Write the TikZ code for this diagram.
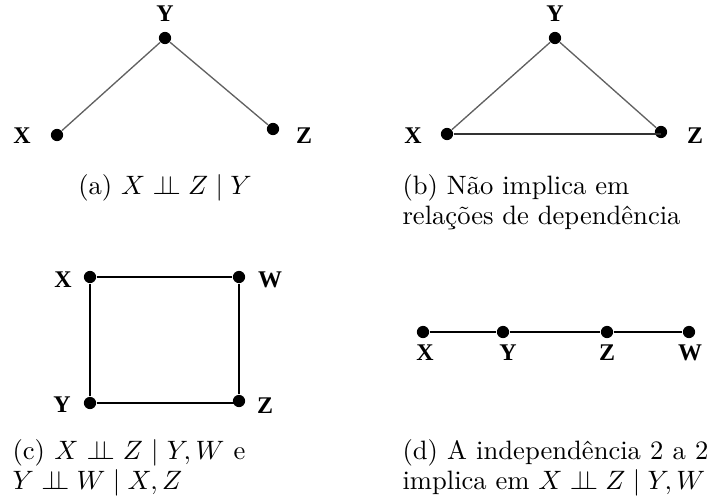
\documentclass[tikz,border=0pt]{standalone}
\usepackage{fontspec}
\newfontfamily\lblfont{Liberation Serif}
\newcommand{\indep}{\perp\!\!\!\perp}
\begin{document}
\begin{tikzpicture}[x=0.376pt,y=-0.376pt,
  dot/.style={circle,fill=black,inner sep=0pt,minimum size=4.6pt},
  lbl/.style={font=\lblfont\bfseries\fontsize{9}{10}\selectfont, inner sep=0pt},
  captxt/.style={anchor=base west, inner sep=0pt, font=\fontsize{10}{12}\selectfont},
  gedge/.style={draw=black!62, line width=0.5pt},
  bedge/.style={draw=black, line width=0.6pt}]
\useasboundingbox (0,0) rectangle (719,501);

% (a)
\node[dot] (aY) at (165,38) {};
\node[dot] (aX) at (57,135) {};
\node[dot] (aZ) at (273,129) {};
\node[lbl] (laY) at (165,14) {Y};
\node[lbl] (laX) at (22,136) {X};
\node[lbl] (laZ) at (304,136) {Z};
\draw[gedge] (aY) -- (aX);
\draw[gedge] (aY) -- (aZ);
\node[captxt,anchor=base] (capa) at (165,194) {(a) $X \indep Z \mid Y$};

% (b)
\node[dot] (bY) at (555,38) {};
\node[dot] (bX) at (447,134) {};
\node[dot] (bZ) at (661,132) {};
\node[lbl] (lbY) at (555,14) {Y};
\node[lbl] (lbX) at (413,136) {X};
\node[lbl] (lbZ) at (695,136) {Z};
\draw[gedge] (bY) -- (bX);
\draw[gedge] (bY) -- (bZ);
\draw[bedge,draw=black!80] (bX) -- (bX -| bZ);

% captions (b)
\node[captxt] (capb1) at (402,194) {(b) Não implica em};
\node[captxt] (capb2) at (402,224) {relações de dependência};

% (c)
\node[dot] (cX) at (90,277) {};
\node[dot] (cW) at (239,277) {};
\node[dot] (cY) at (90,403) {};
\node[dot] (cZ) at (239,401) {};
\node[lbl] (lcX) at (63,280) {X};
\node[lbl] (lcW) at (270,280) {W};
\node[lbl] (lcY) at (62,405) {Y};
\node[lbl] (lcZ) at (265,406) {Z};
\draw[bedge] (cX) -- (cW);
\draw[bedge] (cW) -- (cZ);
\draw[bedge] (cY) -- (cY -| cZ);
\draw[bedge] (cY) -- (cX);
\node[captxt] (capc1) at (12,459) {\makebox[87.6pt][s]{(c) $X \indep Z \mid Y, W$ e}};
\node[captxt] (capc2) at (12,489) {$Y \indep W \mid X, Z$};

% (d)
\node[dot] (dX) at (423,332) {};
\node[dot] (dY) at (503,332) {};
\node[dot] (dZ) at (607,332) {};
\node[dot] (dW) at (689,332) {};
\node[lbl] (ldX) at (425,353) {X};
\node[lbl] (ldY) at (508,353) {Y};
\node[lbl] (ldZ) at (607,353) {Z};
\node[lbl] (ldW) at (690,353) {W};
\draw[bedge] (dX) -- (dY);
\draw[bedge] (dY) -- (dZ);
\draw[bedge] (dZ) -- (dW);
\node[captxt] (capd1) at (402,459) {\makebox[115pt][s]{(d) A independência 2 a 2}};
\node[captxt] (capd2) at (402,489) {implica em $X \indep Z \mid Y, W$};
\end{tikzpicture}
\end{document}
